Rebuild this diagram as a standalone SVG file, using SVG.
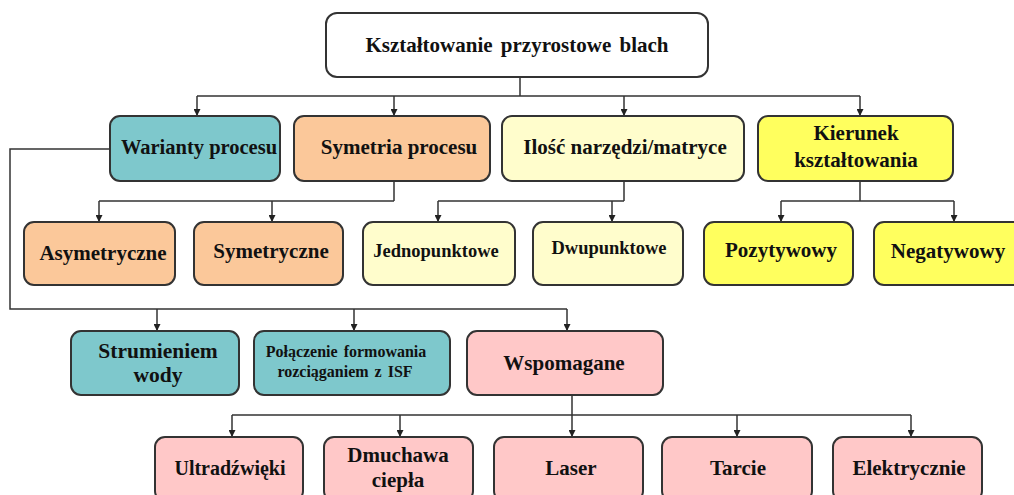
<svg xmlns="http://www.w3.org/2000/svg" width="1014" height="495" viewBox="0 0 1014 495">
<defs>
<marker id="ah" markerWidth="7" markerHeight="7" refX="7" refY="3.5" orient="auto" markerUnits="userSpaceOnUse"><path d="M0,0 L7,3.5 L0,7 z" fill="#222"/></marker>
<style>
.b{stroke:#333;stroke-width:2}
.w{fill:#fff}.t{fill:#7ec8cc}.p{fill:#fbc89a}.ly{fill:#fffdcc}.y{fill:#ffff5e}.k{fill:#ffc8c8}
text{font-family:"Liberation Serif","Times New Roman",serif;font-weight:bold;fill:#111;text-anchor:middle}
.c path{fill:none;stroke:#333;stroke-width:1.5}
.c .a{marker-end:url(#ah)}
</style>
</defs>
<rect width="1014" height="495" fill="#fff"/>
<g class="c" id="connectors">
<path d="M520,77 V96 M197,96 H860"/>
<path class="a" d="M197,96 V116"/><path class="a" d="M394,96 V116"/><path class="a" d="M624,96 V116"/><path class="a" d="M860,96 V116"/>
<path d="M394,181 V201 M99,201 H394"/>
<path class="a" d="M99,201 V222"/><path class="a" d="M272,201 V222"/>
<path d="M624,181 V201 M438,201 H624"/>
<path class="a" d="M438,201 V222"/><path class="a" d="M612,201 V222"/>
<path d="M860,181 V201 M781,201 H954"/>
<path class="a" d="M781,201 V222"/><path class="a" d="M954,201 V222"/>
<path d="M110,149 H10 V309 H567"/>
<path class="a" d="M157,309 V331"/><path class="a" d="M354,309 V331"/><path class="a" d="M567,309 V331"/>
<path d="M572,395 V415 M232,415 H911"/>
<path class="a" d="M232,415 V437"/><path class="a" d="M400,415 V437"/><path class="a" d="M572,415 V437"/><path class="a" d="M737,415 V437"/><path class="a" d="M911,415 V437"/>
</g>
<g id="n-root"><rect class="b w" x="326" y="13" width="382" height="64" rx="11"/><text x="517" y="52" font-size="21" word-spacing="3">Kształtowanie przyrostowe blach</text></g>
<g id="n-warianty"><rect class="b t" x="110" y="116" width="170" height="65" rx="10"/><text x="199" y="154" font-size="20.5">Warianty procesu</text></g>
<g id="n-symetria"><rect class="b p" x="294" y="116" width="196" height="65" rx="10"/><text x="399" y="154" font-size="21">Symetria procesu</text></g>
<g id="n-ilosc"><rect class="b ly" x="502" y="116" width="242" height="65" rx="10"/><text x="625" y="154" font-size="21">Ilość narzędzi/matryce</text></g>
<g id="n-kierunek"><rect class="b y" x="758" y="116" width="195" height="65" rx="10"/><text x="856" y="140" font-size="21">Kierunek</text><text x="856" y="167" font-size="21">kształtowania</text></g>
<g id="n-asym"><rect class="b p" x="24" y="222" width="151" height="63" rx="10"/><text x="103" y="260" font-size="21">Asymetryczne</text></g>
<g id="n-sym"><rect class="b p" x="194" y="222" width="149" height="63" rx="10"/><text x="271" y="258" font-size="21">Symetryczne</text></g>
<g id="n-jedno"><rect class="b ly" x="363" y="222" width="152" height="63" rx="10"/><text x="436" y="257" font-size="18.5">Jednopunktowe</text></g>
<g id="n-dwu"><rect class="b ly" x="533" y="222" width="150" height="63" rx="10"/><text x="609" y="254" font-size="18.5">Dwupunktowe</text></g>
<g id="n-poz"><rect class="b y" x="704" y="222" width="149" height="63" rx="10"/><text x="781" y="257" font-size="21">Pozytywowy</text></g>
<g id="n-neg"><rect class="b y" x="874" y="222" width="150" height="63" rx="10"/><text x="948" y="258" font-size="21">Negatywowy</text></g>
<g id="n-strum"><rect class="b t" x="71" y="331" width="168" height="64" rx="10"/><text x="158" y="358" font-size="21.5">Strumieniem</text><text x="158" y="382" font-size="21.5">wody</text></g>
<g id="n-polacz"><rect class="b t" x="254" y="331" width="196" height="64" rx="10"/><text x="346" y="357" font-size="16" word-spacing="2">Połączenie formowania</text><text x="345" y="377" font-size="16" word-spacing="2">rozciąganiem z ISF</text></g>
<g id="n-wspom"><rect class="b k" x="467" y="331" width="196" height="64" rx="10"/><text x="564" y="370" font-size="21">Wspomagane</text></g>
<g id="n-ultra"><rect class="b k" x="155" y="437" width="148" height="64" rx="10"/><text x="230" y="475" font-size="20">Ultradźwięki</text></g>
<g id="n-dmuch"><rect class="b k" x="324" y="437" width="149" height="64" rx="10"/><text x="398" y="462" font-size="21">Dmuchawa</text><text x="398" y="487" font-size="21">ciepła</text></g>
<g id="n-laser"><rect class="b k" x="494" y="437" width="149" height="64" rx="10"/><text x="571" y="475" font-size="21">Laser</text></g>
<g id="n-tarcie"><rect class="b k" x="662" y="437" width="150" height="64" rx="10"/><text x="738" y="475" font-size="21">Tarcie</text></g>
<g id="n-elek"><rect class="b k" x="833" y="437" width="149" height="64" rx="10"/><text x="909" y="475" font-size="21">Elektrycznie</text></g>
</svg>
